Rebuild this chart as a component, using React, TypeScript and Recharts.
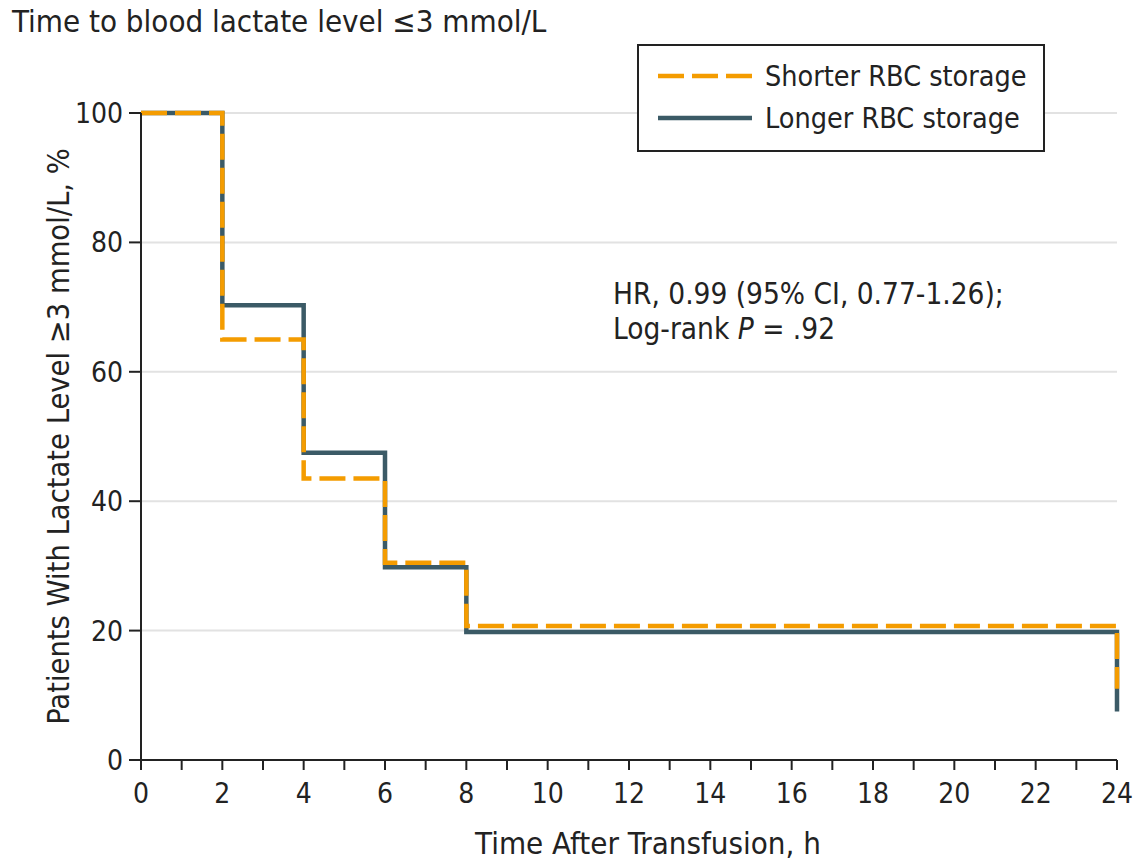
import {
  CartesianGrid,
  Label,
  Line,
  LineChart,
  XAxis,
  YAxis,
} from "recharts"

// Kaplan-Meier style step data
const hours = [0, 2, 4, 6, 8, 24, 24]
const shorterStorage = [100, 65, 43.5, 30.5, 20.7, 20.7, 11]
const longerStorage = [100, 70.3, 47.5, 29.8, 19.8, 19.8, 7.5]

const xTicks = Array.from({ length: 25 }, (_, i) => i)
const yTicks = [0, 20, 40, 60, 80, 100]

const FONT = "'Liberation Sans Narrow', 'DejaVu Sans Condensed', 'Noto Sans', sans-serif"
const ORANGE = "#f49c00"
const SLATE = "#3b5a66"
const INK = "#222"

const shorterData = hours.map((t, i) => ({ t, value: shorterStorage[i] }))
const longerData = hours.map((t, i) => ({ t, value: longerStorage[i] }))

const App = () => {
  return (
    <div
      style={{
        position: "absolute",
        left: 0,
        top: 0,
        width: 1138,
        height: 864,
        background: "#fff",
        fontFamily: FONT,
        color: INK,
      }}
    >
      <div
        style={{ position: "absolute", left: 12, top: 3, fontSize: 31, whiteSpace: "nowrap" }}
      >
        Time to blood lactate level ≤3 mmol/L
      </div>

      <LineChart
        width={1138}
        height={864}
        margin={{ top: 113, right: 21, left: 0, bottom: 0 }}
      >
        <CartesianGrid vertical={false} stroke="#e2e2e2" strokeWidth={2} />
        <XAxis
          type="number"
          dataKey="t"
          domain={[0, 24]}
          ticks={xTicks}
          interval={0}
          tickFormatter={(v: number) => (v % 2 === 0 ? String(v) : "")}
          height={104}
          tickSize={10}
          tickMargin={13}
          stroke={INK}
          strokeWidth={2}
          tick={{ fill: INK, fontSize: 28, fontFamily: FONT }}
          tickLine={{ stroke: INK, strokeWidth: 2 }}
        >
          <Label
            value="Time After Transfusion, h"
            position="center"
            dx={19}
            dy={31}
            style={{ fill: INK, fontSize: 31, fontFamily: FONT }}
          />
        </XAxis>
        <YAxis
          type="number"
          domain={[0, 100]}
          ticks={yTicks}
          width={141}
          tickSize={12}
          tickMargin={6}
          stroke={INK}
          strokeWidth={2}
          tick={{ fill: INK, fontSize: 28, fontFamily: FONT }}
          tickLine={{ stroke: INK, strokeWidth: 2 }}
        >
          <Label
            value="Patients With Lactate Level ≥3 mmol/L, %"
            position="center"
            angle={-90}
            dx={-12}
            style={{ fill: INK, fontSize: 30.5, fontFamily: FONT, textAnchor: "middle" }}
          />
        </YAxis>
        <Line
          data={longerData}
          dataKey="value"
          type="stepAfter"
          stroke={SLATE}
          strokeWidth={4.5}
          dot={false}
          isAnimationActive={false}
        />
        <Line
          data={shorterData}
          dataKey="value"
          type="stepAfter"
          stroke={ORANGE}
          strokeWidth={4.5}
          strokeDasharray="26 8"
          dot={false}
          isAnimationActive={false}
        />
      </LineChart>

      <div
        style={{
          position: "absolute",
          left: 613,
          top: 277,
          fontSize: 29.5,
          lineHeight: "35px",
          whiteSpace: "nowrap",
        }}
      >
        <div>HR, 0.99 (95% CI, 0.77-1.26);</div>
        <div>
          Log-rank <i>P</i> = .92
        </div>
      </div>

      <div
        style={{
          position: "absolute",
          left: 637,
          top: 44,
          width: 404,
          height: 104,
          border: `2px solid ${INK}`,
          background: "#fff",
        }}
      >
        <svg width={120} height={104} style={{ position: "absolute", left: 0, top: 0 }}>
          <line x1={19} x2={113} y1={30} y2={30} stroke={ORANGE} strokeWidth={4.5} strokeDasharray="26 8" />
          <line x1={19} x2={113} y1={72} y2={72} stroke={SLATE} strokeWidth={4.5} />
        </svg>
        <div
          style={{
            position: "absolute",
            left: 126,
            top: 10,
            fontSize: 28.5,
            lineHeight: "42px",
            whiteSpace: "nowrap",
          }}
        >
          <div>Shorter RBC storage</div>
          <div>Longer RBC storage</div>
        </div>
      </div>
    </div>
  )
}

export default App
